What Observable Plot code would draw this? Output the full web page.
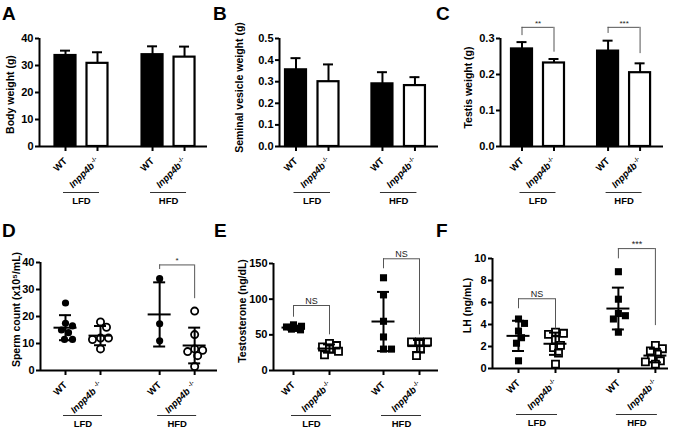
<!DOCTYPE html>
<html><head><meta charset="utf-8">
<script src="https://cdn.jsdelivr.net/npm/d3@7"></script>
<script src="https://cdn.jsdelivr.net/npm/@observablehq/plot@0.6"></script>
<style>
body{margin:0;background:#fff;}
#wrap{position:relative;width:675px;height:429px;font-family:"Liberation Sans",Arial,sans-serif;background:#fff;overflow:hidden;}
.panel{position:absolute;}
.letter{position:absolute;font-weight:bold;font-size:19px;line-height:1;color:#000;}
</style></head><body><div id="wrap"></div>
<script>
// ---------------- DATA ----------------
// group order in every array: WT-LFD, Inpp4b-LFD, WT-HFD, Inpp4b-HFD
const genotypeLabels = ["WT", "Inpp4b-/-"];
const dietLabels = ["LFD", "HFD"];
const panelLetters = ["A", "B", "C", "D", "E", "F"];

// A: body weight (g), mean and SD
const bodyWeightMean = [33.7, 30.8, 34.0, 33.1];
const bodyWeightSD = [1.8, 4.1, 3.1, 3.9];
// B: seminal vesicle weight (g)
const vesicleMean = [0.355, 0.300, 0.290, 0.282];
const vesicleSD = [0.054, 0.080, 0.054, 0.039];
// C: testis weight (g)
const testisMean = [0.271, 0.232, 0.265, 0.205];
const testisSD = [0.019, 0.011, 0.029, 0.026];
const testisSigLabel = ["**", "***"];
const testisSigDiet = [0, 1];
const testisSigBar = [0.331, 0.331];
const testisSigLeft = [0.308, 0.314];
const testisSigRight = [0.262, 0.258];

// D: sperm count (x10^5/mL), individual animals
const spermWT_LFD = [25, 17.5, 16.5, 15, 14, 11.5, 11.5];
const spermKO_LFD = [18, 16, 12, 12, 11.5, 8];
const spermWT_HFD = [34, 17.3, 11];
const spermKO_HFD = [22, 13.3, 8, 7.5, 7, 5.5, 1.5];
const spermSigLabel = ["*"];
const spermSigDiet = [1];
const spermSigBar = [39.1];
const spermSigLeft = [37.4];
const spermSigRight = [26.6];

// E: testosterone (ng/dL)
const testoWT_LFD = [64, 62, 61, 59, 58, 57];
const testoKO_LFD = [38, 35, 33, 30, 27, 22];
const testoWT_HFD = [130, 106, 69, 47, 30, 30];
const testoKO_HFD = [40, 40, 40, 30, 21];
const testoSigLabel = ["NS", "NS"];
const testoSigDiet = [0, 1];
const testoSigBar = [91.1, 156.6];
const testoSigLeft = [74.7, 142.6];
const testoSigRight = [50, 50];

// F: LH (ng/mL)
const lhWT_LFD = [4.5, 4.1, 3.4, 2.8, 2.3, 0.7];
const lhKO_LFD = [3.3, 3.2, 3.1, 2.6, 2.1, 1.9, 1.4, 0.4];
const lhWT_HFD = [8.8, 6.3, 5.0, 4.8, 4.5, 3.3];
const lhKO_HFD = [2.1, 1.8, 1.6, 1.3, 0.9, 0.7, 0.6, 0.4];
const lhSigLabel = ["NS", "***"];
const lhSigDiet = [0, 1];
const lhSigBar = [6.34, 10.9];
const lhSigLeft = [5.43, 9.97];
const lhSigRight = [3.6, 3.9];

// ---------------- LAYOUT ----------------
const FONT = "Liberation Sans, Arial, sans-serif";
const NS = "http://www.w3.org/2000/svg";
const wrap = document.getElementById("wrap");

// bounded beeswarm: spread points sideways, never wider than maxHalf px
function swarmOffsets(vals, pxPerY, minDist, maxHalf) {
  const order = d3.range(vals.length).sort((a, b) => d3.descending(vals[a], vals[b]));
  const placed = [], off = new Array(vals.length).fill(0);
  const step = 1;
  const cands = [0];
  for (let k = 1; k * step <= maxHalf; k++) cands.push(k * step, -k * step);
  for (const i of order) {
    const y = vals[i] * pxPerY;
    let best = null, bestD = -1;
    for (const o of cands) {
      const dmin = placed.length ? d3.min(placed, p => Math.hypot(p.x - o, p.y - y)) : Infinity;
      if (dmin >= minDist) { best = o; break; }
      if (dmin > bestD + 0.5) { bestD = dmin; best = o; }
    }
    off[i] = best; placed.push({x: best, y});
  }
  return off;
}

function buildPanel(cfg, addMarks) {
  const xL = (cfg.axisX - cfg.c0) / cfg.unit, xR = (cfg.axisEnd - cfg.c0) / cfg.unit;
  const pos = [0, 1, 2, 3].map(i => Math.floor(i / 2) * cfg.G + (i % 2));
  const u = px => px / cfg.unit;
  const pxPerY = (cfg.yBottom - cfg.yTop) / (cfg.yDomain[1] - cfg.yDomain[0]);
  const marks = [];
  addMarks(marks, pos, u, pxPerY);
  // significance brackets
  if (cfg.sig) {
    const s = cfg.sig;
    const rows = s.label.map((l, i) => ({label: l, a: pos[s.diet[i] * 2], b: pos[s.diet[i] * 2 + 1], bar: s.bar[i], left: s.left[i], right: s.right[i]}));
    marks.push(Plot.ruleY(rows, {y: "bar", x1: "a", x2: "b", stroke: "#555", strokeWidth: 1}));
    marks.push(Plot.ruleX(rows, {x: "a", y1: "left", y2: "bar", stroke: "#555", strokeWidth: 1}));
    marks.push(Plot.ruleX(rows, {x: "b", y1: "right", y2: "bar", stroke: "#555", strokeWidth: 1}));
    marks.push(Plot.text(rows, {x: d => (d.a + d.b) / 2, y: "bar", text: "label", lineAnchor: "bottom", dy: -1.5, fontSize: cfg.sigFont || 9, fontWeight: "normal", fill: "#222"}));
  }
  // axes
  marks.push(Plot.ruleX([xL], {strokeWidth: 2}));
  marks.push(Plot.ruleY([0], {strokeWidth: 2}));
  marks.push(Plot.axisY({ticks: cfg.yTicks, tickFormat: cfg.yFormat, tickSize: 4, tickPadding: 2, strokeWidth: 2, fontSize: 11, fontWeight: "bold", label: null}));
  marks.push(Plot.axisX({ticks: pos, tickFormat: d => genotypeLabels[pos.findIndex(p => Math.abs(p - d) < 1e-9) % 2], tickRotate: -45, tickSize: 5, tickPadding: 8, strokeWidth: 2, fontSize: 9.5, fontWeight: "bold", label: null}));
  // diet group lines and labels
  marks.push(Plot.ruleY(dietLabels, {y: 0, x1: (d, i) => i * cfg.G - u(2), x2: (d, i) => i * cfg.G + 1 + u(2), dy: cfg.lineDy, stroke: "#333", strokeWidth: 1}));
  marks.push(Plot.text(dietLabels, {x: (d, i) => i * cfg.G + 0.5, y: 0, text: d => d, dy: cfg.lineDy + 8.5, fontSize: 9.5, fontWeight: "bold", lineAnchor: "middle"}));
  // y title
  marks.push(Plot.text([cfg.title], {frameAnchor: "left", dx: cfg.titleDx, dy: cfg.titleDy, rotate: -90, text: d => d, fontSize: 10.5, fontWeight: "bold", textAnchor: "middle"}));

  const svg = Plot.plot({
    width: cfg.w, height: cfg.h,
    marginLeft: cfg.axisX, marginRight: cfg.w - cfg.axisEnd,
    marginTop: cfg.yTop, marginBottom: cfg.h - cfg.yBottom,
    x: {type: "linear", domain: [xL, xR]},
    y: {domain: cfg.yDomain},
    style: {fontFamily: FONT, background: "white", overflow: "visible", color: "black"},
    marks
  });
  // italic gene name with superscript genotype
  svg.querySelectorAll("text").forEach(t => {
    const s = t.textContent;
    if (s.startsWith("Inpp4b")) {
      t.textContent = "";
      const a = document.createElementNS(NS, "tspan");
      a.textContent = "Inpp4b"; a.setAttribute("font-style", "italic");
      const b = document.createElementNS(NS, "tspan");
      b.textContent = s.slice(6); b.setAttribute("font-size", "6"); b.setAttribute("dy", "-3.5"); b.setAttribute("dx", cfg.supDx || "1");
      t.append(a, b);
    }
  });
  const div = document.createElement("div");
  div.className = "panel";
  div.style.left = cfg.left + "px"; div.style.top = cfg.top + "px";
  div.appendChild(svg);
  wrap.appendChild(div);
}

function barMarks(means, sds) {
  return (marks, pos, u) => {
    const rows = means.map((m, i) => ({p: pos[i], m, top: m + sds[i], wt: i % 2 === 0}));
    marks.push(Plot.ruleX(rows, {x: "p", y1: "m", y2: "top", strokeWidth: 2}));
    marks.push(Plot.ruleY(rows, {y: "top", x1: d => d.p - u(5), x2: d => d.p + u(5), strokeWidth: 2}));
    marks.push(Plot.rectY(rows, {x1: d => d.p - u(10.5), x2: d => d.p + u(10.5), y1: 0, y2: "m", fill: d => d.wt ? "black" : "white", stroke: "black", strokeWidth: 2.2, inset: 0}));
  };
}

function dotMarks(groups, symbol, r, minDist, maxHalf) {
  return (marks, pos, u, pxPerY) => {
    const pts = [], stats = [];
    groups.forEach((vals, gi) => {
      const off = swarmOffsets(vals, pxPerY, minDist, maxHalf);
      vals.forEach((v, j) => pts.push({x: pos[gi] + u(off[j]), y: v, wt: gi % 2 === 0}));
      const m = d3.mean(vals), sd = d3.deviation(vals);
      stats.push({p: pos[gi], m, lo: m - sd, hi: m + sd});
    });
    marks.push(Plot.dot(pts, {x: "x", y: "y", symbol, r, fill: d => d.wt ? "black" : "white", stroke: "black", strokeWidth: d => d.wt ? 0 : 1.8}));
    marks.push(Plot.ruleX(stats, {x: "p", y1: "lo", y2: "hi", strokeWidth: 2}));
    marks.push(Plot.ruleY(stats, {y: "m", x1: d => d.p - u(11.5), x2: d => d.p + u(11.5), strokeWidth: 2}));
    marks.push(Plot.ruleY(stats, {y: "hi", x1: d => d.p - u(6), x2: d => d.p + u(6), strokeWidth: 2}));
    marks.push(Plot.ruleY(stats, {y: "lo", x1: d => d.p - u(6), x2: d => d.p + u(6), strokeWidth: 2}));
  };
}

const fmt1 = d3.format(".1f");

buildPanel({left: 0, top: 0, w: 225, h: 215, axisX: 39, axisEnd: 207, yTop: 38, yBottom: 146, c0: 65, unit: 32, G: 2.72, lineDy: 46,
  yDomain: [0, 40], yTicks: [0, 10, 20, 30, 40], yFormat: d => d, title: "Body weight (g)", titleDx: -29, titleDy: 2},
  barMarks(bodyWeightMean, bodyWeightSD));
buildPanel({left: 225, top: 0, w: 225, h: 215, axisX: 54, axisEnd: 213, yTop: 38, yBottom: 146, c0: 70.5, unit: 32.5, G: 2.66, lineDy: 46,
  yDomain: [0, 0.5], yTicks: [0, 0.1, 0.2, 0.3, 0.4, 0.5], yFormat: fmt1, title: "Seminal vesicle weight (g)", titleDx: -40, titleDy: -5},
  barMarks(vesicleMean, vesicleSD));
buildPanel({left: 450, top: 0, w: 225, h: 215, axisX: 50, axisEnd: 213, yTop: 38, yBottom: 146, c0: 71.5, unit: 32, G: 2.69, lineDy: 46,
  yDomain: [0, 0.3], yTicks: [0, 0.1, 0.2, 0.3], yFormat: fmt1, title: "Testis weight (g)", titleDx: -32, titleDy: -5,
  sig: {label: testisSigLabel, diet: testisSigDiet, bar: testisSigBar, left: testisSigLeft, right: testisSigRight}, sigFont: 8},
  barMarks(testisMean, testisSD));
buildPanel({left: 0, top: 215, w: 225, h: 214, axisX: 40, axisEnd: 217, yTop: 47, yBottom: 155, c0: 65, unit: 35, G: 2.69, lineDy: 45,
  yDomain: [0, 40], yTicks: [0, 10, 20, 30, 40], yFormat: d => d, title: "Sperm count (x10\u2075/mL)", titleDx: -24, titleDy: -7,
  sig: {label: spermSigLabel, diet: spermSigDiet, bar: spermSigBar, left: spermSigLeft, right: spermSigRight}, sigFont: 8, supDx: "3"},
  dotMarks([spermWT_LFD, spermKO_LFD, spermWT_HFD, spermKO_HFD], "circle", 3.6, 7.5, 10));
buildPanel({left: 225, top: 215, w: 225, h: 214, axisX: 48, axisEnd: 213, yTop: 48, yBottom: 155, c0: 68, unit: 36, G: 2.5, lineDy: 45,
  yDomain: [0, 150], yTicks: [0, 50, 100, 150], yFormat: d => d, title: "Testosterone (ng/dL)", titleDx: -31, titleDy: -6,
  sig: {label: testoSigLabel, diet: testoSigDiet, bar: testoSigBar, left: testoSigLeft, right: testoSigRight}, sigFont: 9},
  dotMarks([testoWT_LFD, testoKO_LFD, testoWT_HFD, testoKO_HFD], "square", 4, 7.2, 9));
buildPanel({left: 450, top: 215, w: 225, h: 214, axisX: 42, axisEnd: 218, yTop: 43, yBottom: 153, c0: 68, unit: 37, G: 2.7, lineDy: 46,
  yDomain: [0, 10], yTicks: [0, 2, 4, 6, 8, 10], yFormat: d => d, title: "LH (ng/mL)", titleDx: -25, titleDy: -8,
  sig: {label: lhSigLabel, diet: lhSigDiet, bar: lhSigBar, left: lhSigLeft, right: lhSigRight}, sigFont: 9},
  dotMarks([lhWT_LFD, lhKO_LFD, lhWT_HFD, lhKO_HFD], "square", 4, 7.2, 10));

// panel letters
const letterPos = [[2, 4], [213, 4], [436, 4], [2, 221], [214, 221], [436, 221]];
panelLetters.forEach((L, i) => {
  const d = document.createElement("div");
  d.className = "letter"; d.textContent = L;
  d.style.left = letterPos[i][0] + "px"; d.style.top = letterPos[i][1] + "px";
  wrap.appendChild(d);
});
</script></body></html>
